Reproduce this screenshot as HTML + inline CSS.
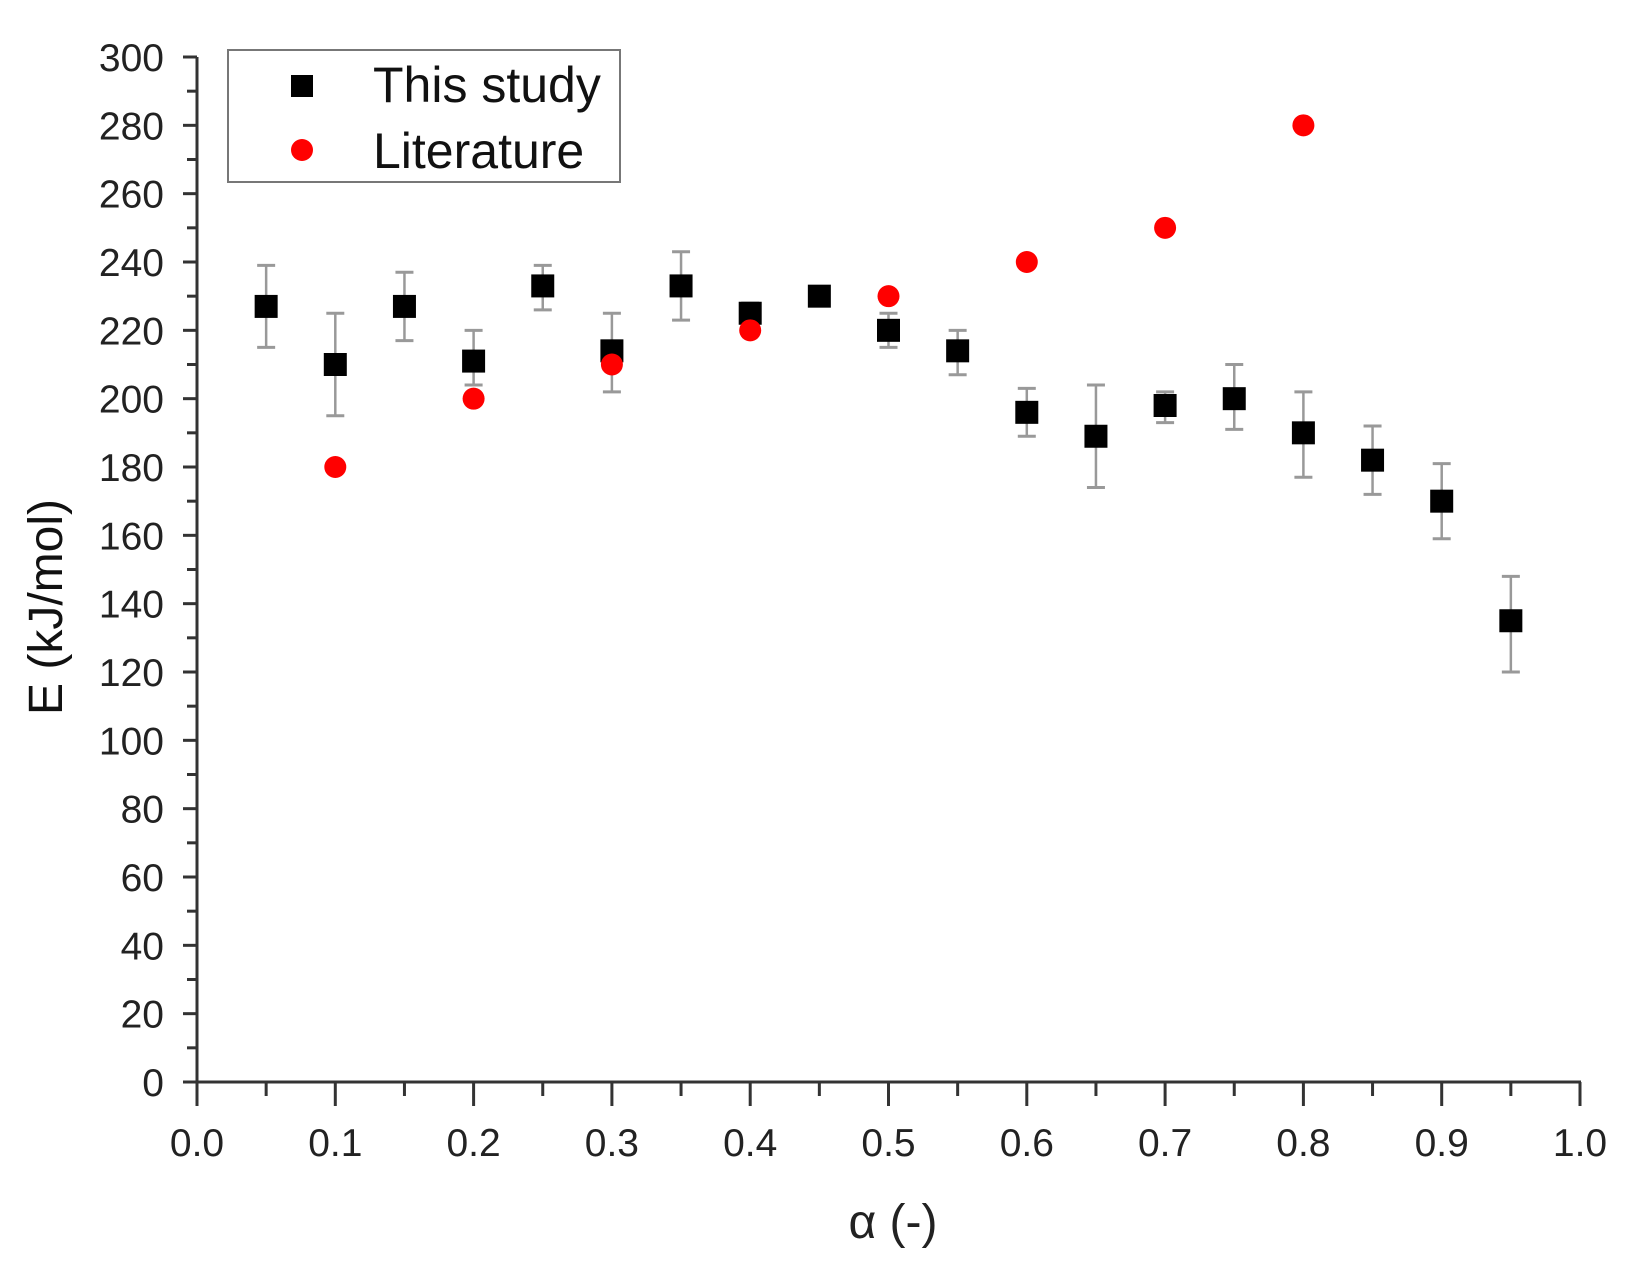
<!DOCTYPE html>
<html><head><meta charset="utf-8"><style>
html,body{margin:0;padding:0;background:#fff;}
svg{display:block;font-family:"Liberation Sans",Arial,sans-serif;}
</style></head><body>
<svg id="s" width="1633" height="1269" viewBox="0 0 1633 1269" xmlns="http://www.w3.org/2000/svg">
<rect width="1633" height="1269" fill="#fff"/>
<g id="g"></g>
<rect x="228" y="50" width="392" height="132" fill="none" stroke="#777" stroke-width="2"/>
<rect x="291" y="75" width="22" height="22" fill="#000"/>
<text x="373" y="102" font-size="50" fill="#111">This study</text>
<circle cx="302" cy="150" r="11" fill="#f00"/>
<text x="373" y="168" font-size="50" fill="#111">Literature</text>
<text x="893" y="1238" font-size="48" text-anchor="middle" fill="#222">α (-)</text>
<text transform="translate(62,607) rotate(-90)" font-size="48" text-anchor="middle" fill="#111">E (kJ/mol)</text>
</svg>
<script>
const g=document.getElementById('g');
const X=a=>197+a*1383, Y=v=>1082-v*1025/300;
let h='';
h+=`<line x1="197" y1="${Y(300)}" x2="197" y2="1086" stroke="#333" stroke-width="3"/>`;
h+=`<line x1="195" y1="1082" x2="${X(1)+1}" y2="1082" stroke="#333" stroke-width="3"/>`;
for(let v=0;v<=300;v+=10){const y=Y(v);const maj=v%20==0;
 h+=`<line x1="${maj?183:187}" y1="${y}" x2="197" y2="${y}" stroke="#333" stroke-width="3"/>`;
 if(maj)h+=`<text x="164" y="${y+14}" font-size="39" text-anchor="end" fill="#222">${v}</text>`;}
for(let i=0;i<=20;i++){const x=X(i/20);const maj=i%2==0;
 h+=`<line x1="${x}" y1="1082" x2="${x}" y2="${maj?1106:1096}" stroke="#333" stroke-width="3"/>`;
 if(maj)h+=`<text x="${x}" y="1156" font-size="39" text-anchor="middle" fill="#222">${(i/20).toFixed(1)}</text>`;}
const d=[[.05,227,215,239],[.1,210,195,225],[.15,227,217,237],[.2,211,204,220],[.25,233,226,239],[.3,214,202,225],[.35,233,223,243],[.4,225,222,228],[.45,230,228,232],[.5,220,215,225],[.55,214,207,220],[.6,196,189,203],[.65,189,174,204],[.7,198,193,202],[.75,200,191,210],[.8,190,177,202],[.85,182,172,192],[.9,170,159,181],[.95,135,120,148]];
for(const [a,v,lo,hi] of d){const x=X(a);
 h+=`<line x1="${x}" y1="${Y(lo)}" x2="${x}" y2="${Y(hi)}" stroke="#999" stroke-width="2.5"/>`;
 h+=`<line x1="${x-9}" y1="${Y(lo)}" x2="${x+9}" y2="${Y(lo)}" stroke="#999" stroke-width="3"/>`;
 h+=`<line x1="${x-9}" y1="${Y(hi)}" x2="${x+9}" y2="${Y(hi)}" stroke="#999" stroke-width="3"/>`;}
for(const [a,v] of d){h+=`<rect x="${X(a)-11.5}" y="${Y(v)-11.5}" width="23" height="23" fill="#000"/>`;}
const l=[[.1,180],[.2,200],[.3,210],[.4,220],[.5,230],[.6,240],[.7,250],[.8,280]];
for(const [a,v] of l){h+=`<circle cx="${X(a)}" cy="${Y(v)}" r="11" fill="#f00"/>`;}
g.innerHTML=h;
</script>
</body></html>
